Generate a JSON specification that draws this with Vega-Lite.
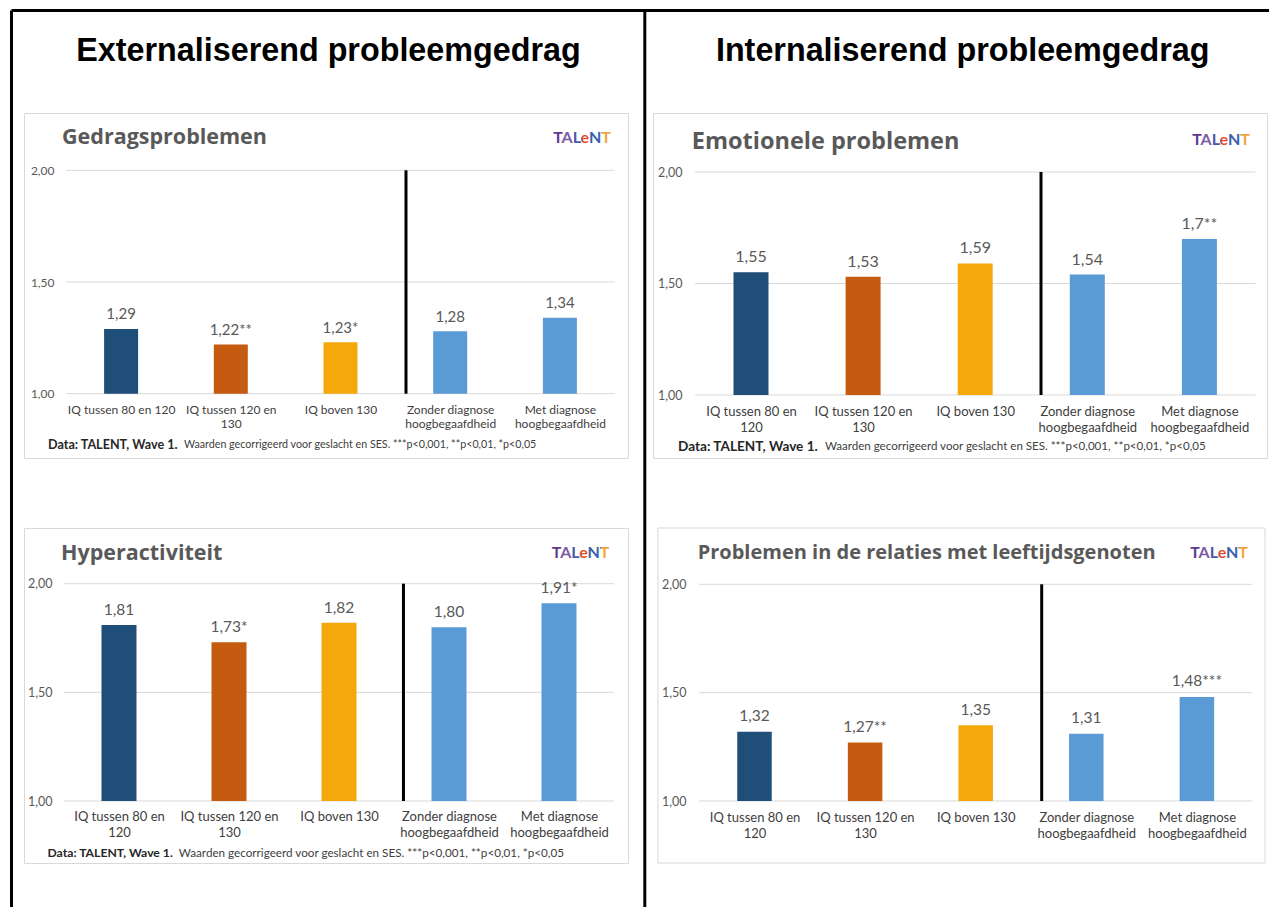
{
  "$schema": "https://vega.github.io/schema/vega-lite/v6.json",
  "autosize": {"type": "pad"},
  "padding": {"left": 9, "top": 8, "right": 0, "bottom": 0},
  "background": "white",
  "bounds": "flush",
  "columns": 2,
  "spacing": {"row": 70, "column": 25},
  "config": {
    "font": "Lato",
    "view": {"stroke": "#d9d9d9", "strokeWidth": 1},
    "axis": {"labelFont": "Lato", "labelColor": "#595959", "domain": false, "ticks": false, "tickSize": 0, "grid": false, "labelOverlap": false, "labelFlush": false, "labelBound": false},
    "text": {"font": "Lato"}
  },
  "concat": [
        {
          "width": 604, "height": 345,
          "layer": [
            {"data": {"values": [{"g": 1}, {"g": 1.5}, {"g": 2}]},
             "mark": {"type": "rule", "color": "#d9d9d9", "strokeWidth": 1},
             "encoding": {
               "x": {"datum": 0.5, "type": "quantitative", "scale": {"domain": [0.1149, 5.6208], "nice": false, "zero": false, "padding": 0}},
               "x2": {"datum": 5.5},
               "y": {"field": "g", "type": "quantitative", "scale": {"domain": [0.7122, 2.2565], "nice": false, "zero": false},
                     "axis": {"values": [1, 1.5, 2], "labelExpr": "replace(format(datum.value, '.2f'), '.', ',')", "offset": -36, "labelPadding": 6, "labelFontSize": 12, "title": null}}
             }},
            {"data": {"values": [{}]}, "mark": {"type": "rule", "color": "black", "strokeWidth": 3},
             "encoding": {"x": {"datum": 3.597}, "y": {"datum": 1}, "y2": {"datum": 2}}},
            {"data": {"values": [
              {"groep": "IQ tussen 80 en 120", "waarde": 1.29, "label": "1,29"},
              {"groep": "IQ tussen 120 en 130", "waarde": 1.22, "label": "1,22**"},
              {"groep": "IQ boven 130", "waarde": 1.23, "label": "1,23*"},
              {"groep": "Zonder diagnose hoogbegaafdheid", "waarde": 1.28, "label": "1,28"},
              {"groep": "Met diagnose hoogbegaafdheid", "waarde": 1.34, "label": "1,34"}
             ]},
             "transform": [{"window": [{"op": "row_number", "as": "nr"}]}],
             "layer": [
               {"mark": {"type": "bar", "width": 34},
                "encoding": {
                  "x": {"field": "nr", "type": "quantitative",
                        "axis": {"values": [1, 2, 3, 4, 5], "title": null, "offset": -64.3, "labelPadding": 10.5, "labelFontSize": 12, "labelLineHeight": 14, "labelColor": "#404040",
                                 "labelExpr": "datum.value == 1 ? 'IQ tussen 80 en 120' : datum.value == 2 ? ['IQ tussen 120 en', '130'] : datum.value == 3 ? 'IQ boven 130' : datum.value == 4 ? ['Zonder diagnose', 'hoogbegaafdheid'] : ['Met diagnose', 'hoogbegaafdheid']"}},
                  "y": {"field": "waarde", "type": "quantitative"},
                  "y2": {"datum": 1},
                  "color": {"field": "groep", "type": "nominal", "legend": null,
                            "scale": {"domain": ["IQ tussen 80 en 120", "IQ tussen 120 en 130", "IQ boven 130", "Zonder diagnose hoogbegaafdheid", "Met diagnose hoogbegaafdheid"],
                                      "range": ["#1f4e79", "#c55a11", "#f5a80b", "#5b9bd5", "#5b9bd5"]}}
                }},
               {"mark": {"type": "text", "dy": -14.5, "fontSize": 15, "color": "#595959"},
                "encoding": {"x": {"field": "nr", "type": "quantitative"}, "y": {"field": "waarde", "type": "quantitative"}, "text": {"field": "label"}}}
             ]},
            {"data": {"values": [{}]},
             "mark": {"type": "text", "text": "Gedragsproblemen", "align": "left", "baseline": "middle", "fontSize": 21.5, "fontWeight": "bold", "font": "Open Sans", "color": "#595959"},
             "encoding": {"x": {"datum": 0.4613}, "y": {"datum": 2.1432}}},
            {"data": {"values": [{}]},
             "mark": {"type": "text", "text": "TALeNT", "align": "center", "baseline": "middle", "fontSize": 16, "fontWeight": "bold",
                      "fill": {"gradient": "linear", "x1": 0, "x2": 1, "y1": 0, "y2": 0, "stops": [
                        {"offset": 0, "color": "#5e3a8c"}, {"offset": 0.16, "color": "#5e3a8c"}, {"offset": 0.16, "color": "#7d5ba6"}, {"offset": 0.35, "color": "#7d5ba6"},
                        {"offset": 0.35, "color": "#4a57a6"}, {"offset": 0.49, "color": "#4a57a6"}, {"offset": 0.49, "color": "#e04d2a"}, {"offset": 0.635, "color": "#e04d2a"},
                        {"offset": 0.635, "color": "#3b5fae"}, {"offset": 0.84, "color": "#3b5fae"}, {"offset": 0.84, "color": "#f2a33a"}, {"offset": 1, "color": "#f2a33a"}]}},
             "encoding": {"x": {"datum": 5.2015}, "y": {"datum": 2.1446}}},
            {"data": {"values": [{}]},
             "mark": {"type": "text", "text": "Data: TALENT, Wave 1.", "align": "left", "baseline": "middle", "fontSize": 12.6, "fontWeight": "bold", "color": "#262626"},
             "encoding": {"x": {"datum": 0.3336}, "y": {"datum": 0.7704}}},
            {"data": {"values": [{}]},
             "mark": {"type": "text", "text": "Waarden gecorrigeerd voor geslacht en SES. ***p<0,001, **p<0,01, *p<0,05", "align": "left", "baseline": "middle", "fontSize": 10.7, "color": "#404040"},
             "encoding": {"x": {"datum": 1.5734}, "y": {"datum": 0.7704}}},
            {"data": {"values": [{}]},
             "mark": {"type": "text", "text": "Externaliserend probleemgedrag", "align": "center", "baseline": "alphabetic", "fontSize": 32.3, "fontWeight": "bold", "font": "Liberation Sans", "color": "black"},
             "encoding": {"x": {"datum": 2.8906}, "y": {"datum": 2.4893}}},
            {"data": {"values": [{}]}, "mark": {"type": "rule", "color": "black", "strokeWidth": 3},
             "encoding": {"x": {"datum": 0.001}, "y": {"datum": 2.7153}, "y2": {"datum": -1.2977}}},
            {"data": {"values": [{}]}, "mark": {"type": "rule", "color": "black", "strokeWidth": 3},
             "encoding": {"x": {"datum": 5.774}, "y": {"datum": 2.7153}, "y2": {"datum": -1.2977}}},
            {"data": {"values": [{}]}, "mark": {"type": "rule", "color": "black", "strokeWidth": 3},
             "encoding": {"x": {"datum": 0.001}, "x2": {"datum": 11.464}, "y": {"datum": 2.7153}}}
          ]
        },
        {
          "width": 614, "height": 345,
          "layer": [
            {"data": {"values": [{"g": 1}, {"g": 1.5}, {"g": 2}]},
             "mark": {"type": "rule", "color": "#d9d9d9", "strokeWidth": 1},
             "encoding": {
               "x": {"datum": 0.5, "type": "quantitative", "scale": {"domain": [0.1258, 5.603], "nice": false, "zero": false, "padding": 0}},
               "x2": {"datum": 5.5},
               "y": {"field": "g", "type": "quantitative", "scale": {"domain": [0.7175, 2.2646], "nice": false, "zero": false},
                     "axis": {"values": [1, 1.5, 2], "labelExpr": "replace(format(datum.value, '.2f'), '.', ',')", "offset": -35, "labelPadding": 6, "labelFontSize": 12.5, "title": null}}
             }},
            {"data": {"values": [{}]}, "mark": {"type": "rule", "color": "black", "strokeWidth": 3},
             "encoding": {"x": {"datum": 3.587}, "y": {"datum": 1}, "y2": {"datum": 2}}},
            {"data": {"values": [
              {"groep": "IQ tussen 80 en 120", "waarde": 1.55, "label": "1,55"},
              {"groep": "IQ tussen 120 en 130", "waarde": 1.53, "label": "1,53"},
              {"groep": "IQ boven 130", "waarde": 1.59, "label": "1,59"},
              {"groep": "Zonder diagnose hoogbegaafdheid", "waarde": 1.54, "label": "1,54"},
              {"groep": "Met diagnose hoogbegaafdheid", "waarde": 1.70, "label": "1,7**"}
             ]},
             "transform": [{"window": [{"op": "row_number", "as": "nr"}]}],
             "layer": [
               {"mark": {"type": "bar", "width": 35},
                "encoding": {
                  "x": {"field": "nr", "type": "quantitative",
                        "axis": {"values": [1, 2, 3, 4, 5], "title": null, "offset": -63, "labelPadding": 10.4, "labelFontSize": 13, "labelLineHeight": 16, "labelColor": "#404040",
                                 "labelExpr": "datum.value == 1 ? ['IQ tussen 80 en', '120'] : datum.value == 2 ? ['IQ tussen 120 en', '130'] : datum.value == 3 ? 'IQ boven 130' : datum.value == 4 ? ['Zonder diagnose', 'hoogbegaafdheid'] : ['Met diagnose', 'hoogbegaafdheid']"}},
                  "y": {"field": "waarde", "type": "quantitative"},
                  "y2": {"datum": 1},
                  "color": {"field": "groep", "type": "nominal", "legend": null,
                            "scale": {"domain": ["IQ tussen 80 en 120", "IQ tussen 120 en 130", "IQ boven 130", "Zonder diagnose hoogbegaafdheid", "Met diagnose hoogbegaafdheid"],
                                      "range": ["#1f4e79", "#c55a11", "#f5a80b", "#5b9bd5", "#5b9bd5"]}}
                }},
               {"mark": {"type": "text", "dy": -15, "fontSize": 16, "color": "#595959"},
                "encoding": {"x": {"field": "nr", "type": "quantitative"}, "y": {"field": "waarde", "type": "quantitative"}, "text": {"field": "label"}}}
             ]},
            {"data": {"values": [{}]},
             "mark": {"type": "text", "text": "Emotionele problemen", "align": "left", "baseline": "middle", "fontSize": 23.5, "fontWeight": "bold", "font": "Open Sans", "color": "#595959"},
             "encoding": {"x": {"datum": 0.4719}, "y": {"datum": 2.1359}}},
            {"data": {"values": [{}]},
             "mark": {"type": "text", "text": "TALeNT", "align": "center", "baseline": "middle", "fontSize": 16, "fontWeight": "bold",
                      "fill": {"gradient": "linear", "x1": 0, "x2": 1, "y1": 0, "y2": 0, "stops": [
                        {"offset": 0, "color": "#5e3a8c"}, {"offset": 0.16, "color": "#5e3a8c"}, {"offset": 0.16, "color": "#7d5ba6"}, {"offset": 0.35, "color": "#7d5ba6"},
                        {"offset": 0.35, "color": "#4a57a6"}, {"offset": 0.49, "color": "#4a57a6"}, {"offset": 0.49, "color": "#e04d2a"}, {"offset": 0.635, "color": "#e04d2a"},
                        {"offset": 0.635, "color": "#3b5fae"}, {"offset": 0.84, "color": "#3b5fae"}, {"offset": 0.84, "color": "#f2a33a"}, {"offset": 1, "color": "#f2a33a"}]}},
             "encoding": {"x": {"datum": 5.1927}, "y": {"datum": 2.1448}}},
            {"data": {"values": [{}]},
             "mark": {"type": "text", "text": "Data: TALENT, Wave 1.", "align": "left", "baseline": "middle", "fontSize": 13.6, "fontWeight": "bold", "color": "#262626"},
             "encoding": {"x": {"datum": 0.3488}, "y": {"datum": 0.7668}}},
            {"data": {"values": [{}]},
             "mark": {"type": "text", "text": "Waarden gecorrigeerd voor geslacht en SES. ***p<0,001, **p<0,01, *p<0,05", "align": "left", "baseline": "middle", "fontSize": 11.55, "color": "#404040"},
             "encoding": {"x": {"datum": 1.66}, "y": {"datum": 0.7668}}},
            {"data": {"values": [{}]},
             "mark": {"type": "text", "text": "Internaliserend probleemgedrag", "align": "center", "baseline": "alphabetic", "fontSize": 32.3, "fontWeight": "bold", "font": "Liberation Sans", "color": "black"},
             "encoding": {"x": {"datum": 2.8885}, "y": {"datum": 2.4978}}}
          ]
        },
        {
          "width": 604, "height": 335,
          "layer": [
            {"data": {"values": [{"g": 1}, {"g": 1.5}, {"g": 2}]},
             "mark": {"type": "rule", "color": "#d9d9d9", "strokeWidth": 1},
             "encoding": {
               "x": {"datum": 0.5, "type": "quantitative", "scale": {"domain": [0.1364, 5.6273], "nice": false, "zero": false, "padding": 0}},
               "x2": {"datum": 5.5},
               "y": {"field": "g", "type": "quantitative", "scale": {"domain": [0.7147, 2.2563], "nice": false, "zero": false},
                     "axis": {"values": [1, 1.5, 2], "labelExpr": "replace(format(datum.value, '.2f'), '.', ',')", "offset": -34, "labelPadding": 6, "labelFontSize": 12.5, "title": null}}
             }},
            {"data": {"values": [{}]}, "mark": {"type": "rule", "color": "black", "strokeWidth": 3},
             "encoding": {"x": {"datum": 3.586}, "y": {"datum": 1}, "y2": {"datum": 2}}},
            {"data": {"values": [
              {"groep": "IQ tussen 80 en 120", "waarde": 1.81, "label": "1,81"},
              {"groep": "IQ tussen 120 en 130", "waarde": 1.73, "label": "1,73*"},
              {"groep": "IQ boven 130", "waarde": 1.82, "label": "1,82"},
              {"groep": "Zonder diagnose hoogbegaafdheid", "waarde": 1.80, "label": "1,80"},
              {"groep": "Met diagnose hoogbegaafdheid", "waarde": 1.91, "label": "1,91*"}
             ]},
             "transform": [{"window": [{"op": "row_number", "as": "nr"}]}],
             "layer": [
               {"mark": {"type": "bar", "width": 35},
                "encoding": {
                  "x": {"field": "nr", "type": "quantitative",
                        "axis": {"values": [1, 2, 3, 4, 5], "title": null, "offset": -62, "labelPadding": 9.7, "labelFontSize": 13, "labelLineHeight": 16, "labelColor": "#404040",
                                 "labelExpr": "datum.value == 1 ? ['IQ tussen 80 en', '120'] : datum.value == 2 ? ['IQ tussen 120 en', '130'] : datum.value == 3 ? 'IQ boven 130' : datum.value == 4 ? ['Zonder diagnose', 'hoogbegaafdheid'] : ['Met diagnose', 'hoogbegaafdheid']"}},
                  "y": {"field": "waarde", "type": "quantitative"},
                  "y2": {"datum": 1},
                  "color": {"field": "groep", "type": "nominal", "legend": null,
                            "scale": {"domain": ["IQ tussen 80 en 120", "IQ tussen 120 en 130", "IQ boven 130", "Zonder diagnose hoogbegaafdheid", "Met diagnose hoogbegaafdheid"],
                                      "range": ["#1f4e79", "#c55a11", "#f5a80b", "#5b9bd5", "#5b9bd5"]}}
                }},
               {"mark": {"type": "text", "dy": -15, "fontSize": 15.5, "color": "#595959"},
                "encoding": {"x": {"field": "nr", "type": "quantitative"}, "y": {"field": "waarde", "type": "quantitative"}, "text": {"field": "label"}}}
             ]},
            {"data": {"values": [{}]},
             "mark": {"type": "text", "text": "Hyperactiviteit", "align": "left", "baseline": "middle", "fontSize": 21.5, "fontWeight": "bold", "font": "Open Sans", "color": "#595959"},
             "encoding": {"x": {"datum": 0.4727}, "y": {"datum": 2.1367}}},
            {"data": {"values": [{}]},
             "mark": {"type": "text", "text": "TALeNT", "align": "center", "baseline": "middle", "fontSize": 16, "fontWeight": "bold",
                      "fill": {"gradient": "linear", "x1": 0, "x2": 1, "y1": 0, "y2": 0, "stops": [
                        {"offset": 0, "color": "#5e3a8c"}, {"offset": 0.16, "color": "#5e3a8c"}, {"offset": 0.16, "color": "#7d5ba6"}, {"offset": 0.35, "color": "#7d5ba6"},
                        {"offset": 0.35, "color": "#4a57a6"}, {"offset": 0.49, "color": "#4a57a6"}, {"offset": 0.49, "color": "#e04d2a"}, {"offset": 0.635, "color": "#e04d2a"},
                        {"offset": 0.635, "color": "#3b5fae"}, {"offset": 0.84, "color": "#3b5fae"}, {"offset": 0.84, "color": "#f2a33a"}, {"offset": 1, "color": "#f2a33a"}]}},
             "encoding": {"x": {"datum": 5.196}, "y": {"datum": 2.1427}}},
            {"data": {"values": [{}]},
             "mark": {"type": "text", "text": "Data: TALENT, Wave 1.", "align": "left", "baseline": "middle", "fontSize": 12.2, "fontWeight": "bold", "color": "#262626"},
             "encoding": {"x": {"datum": 0.35}, "y": {"datum": 0.7621}}},
            {"data": {"values": [{}]},
             "mark": {"type": "text", "text": "Waarden gecorrigeerd voor geslacht en SES. ***p<0,001, **p<0,01, *p<0,05", "align": "left", "baseline": "middle", "fontSize": 11.7, "color": "#404040"},
             "encoding": {"x": {"datum": 1.5436}, "y": {"datum": 0.7621}}}
          ]
        },
        {
          "width": 612, "height": 335,
          "view": {"stroke": null},
          "layer": [
            {"data": {"values": [{"g": 1}, {"g": 1.5}, {"g": 2}]},
             "mark": {"type": "rule", "color": "#d9d9d9", "strokeWidth": 1},
             "encoding": {
               "x": {"datum": 0.5, "type": "quantitative", "scale": {"domain": [0.0823, 5.6157], "nice": false, "zero": false, "padding": 0}},
               "x2": {"datum": 5.5},
               "y": {"field": "g", "type": "quantitative", "scale": {"domain": [0.7139, 2.2598], "nice": false, "zero": false},
                     "axis": {"values": [1, 1.5, 2], "labelExpr": "replace(format(datum.value, '.2f'), '.', ',')", "offset": -39, "labelPadding": 6, "labelFontSize": 12.5, "title": null}}
             }},
            {"data": {"values": [{}]}, "mark": {"type": "rect", "fill": null, "stroke": "#d9d9d9", "strokeWidth": 1},
             "encoding": {"x": {"datum": 0.1275}, "x2": {"datum": 5.6157}, "y": {"datum": 2.2598}, "y2": {"datum": 0.7139}}},
            {"data": {"values": [{}]}, "mark": {"type": "rule", "color": "black", "strokeWidth": 3},
             "encoding": {"x": {"datum": 3.5967}, "y": {"datum": 1}, "y2": {"datum": 2}}},
            {"data": {"values": [
              {"groep": "IQ tussen 80 en 120", "waarde": 1.32, "label": "1,32"},
              {"groep": "IQ tussen 120 en 130", "waarde": 1.27, "label": "1,27**"},
              {"groep": "IQ boven 130", "waarde": 1.35, "label": "1,35"},
              {"groep": "Zonder diagnose hoogbegaafdheid", "waarde": 1.31, "label": "1,31"},
              {"groep": "Met diagnose hoogbegaafdheid", "waarde": 1.48, "label": "1,48***"}
             ]},
             "transform": [{"window": [{"op": "row_number", "as": "nr"}]}],
             "layer": [
               {"mark": {"type": "bar", "width": 34.5},
                "encoding": {
                  "x": {"field": "nr", "type": "quantitative",
                        "axis": {"values": [1, 2, 3, 4, 5], "title": null, "offset": -62, "labelPadding": 10.4, "labelFontSize": 13, "labelLineHeight": 16.3, "labelColor": "#404040",
                                 "labelExpr": "datum.value == 1 ? ['IQ tussen 80 en', '120'] : datum.value == 2 ? ['IQ tussen 120 en', '130'] : datum.value == 3 ? 'IQ boven 130' : datum.value == 4 ? ['Zonder diagnose', 'hoogbegaafdheid'] : ['Met diagnose', 'hoogbegaafdheid']"}},
                  "y": {"field": "waarde", "type": "quantitative"},
                  "y2": {"datum": 1},
                  "color": {"field": "groep", "type": "nominal", "legend": null,
                            "scale": {"domain": ["IQ tussen 80 en 120", "IQ tussen 120 en 130", "IQ boven 130", "Zonder diagnose hoogbegaafdheid", "Met diagnose hoogbegaafdheid"],
                                      "range": ["#1f4e79", "#c55a11", "#f5a80b", "#5b9bd5", "#5b9bd5"]}}
                }},
               {"mark": {"type": "text", "dy": -15.5, "fontSize": 15.5, "color": "#595959"},
                "encoding": {"x": {"field": "nr", "type": "quantitative"}, "y": {"field": "waarde", "type": "quantitative"}, "text": {"field": "label"}}}
             ]},
            {"data": {"values": [{}]},
             "mark": {"type": "text", "text": "Problemen in de relaties met leeftijdsgenoten", "align": "left", "baseline": "middle", "fontSize": 20, "fontWeight": "bold", "font": "Open Sans", "color": "#595959"},
             "encoding": {"x": {"datum": 0.4864}, "y": {"datum": 2.1458}}},
            {"data": {"values": [{}]},
             "mark": {"type": "text", "text": "TALeNT", "align": "center", "baseline": "middle", "fontSize": 16, "fontWeight": "bold",
                      "fill": {"gradient": "linear", "x1": 0, "x2": 1, "y1": 0, "y2": 0, "stops": [
                        {"offset": 0, "color": "#5e3a8c"}, {"offset": 0.16, "color": "#5e3a8c"}, {"offset": 0.16, "color": "#7d5ba6"}, {"offset": 0.35, "color": "#7d5ba6"},
                        {"offset": 0.35, "color": "#4a57a6"}, {"offset": 0.49, "color": "#4a57a6"}, {"offset": 0.49, "color": "#e04d2a"}, {"offset": 0.635, "color": "#e04d2a"},
                        {"offset": 0.635, "color": "#3b5fae"}, {"offset": 0.84, "color": "#3b5fae"}, {"offset": 0.84, "color": "#f2a33a"}, {"offset": 1, "color": "#f2a33a"}]}},
             "encoding": {"x": {"datum": 5.2}, "y": {"datum": 2.1458}}}
          ]
        }
  ]
}
